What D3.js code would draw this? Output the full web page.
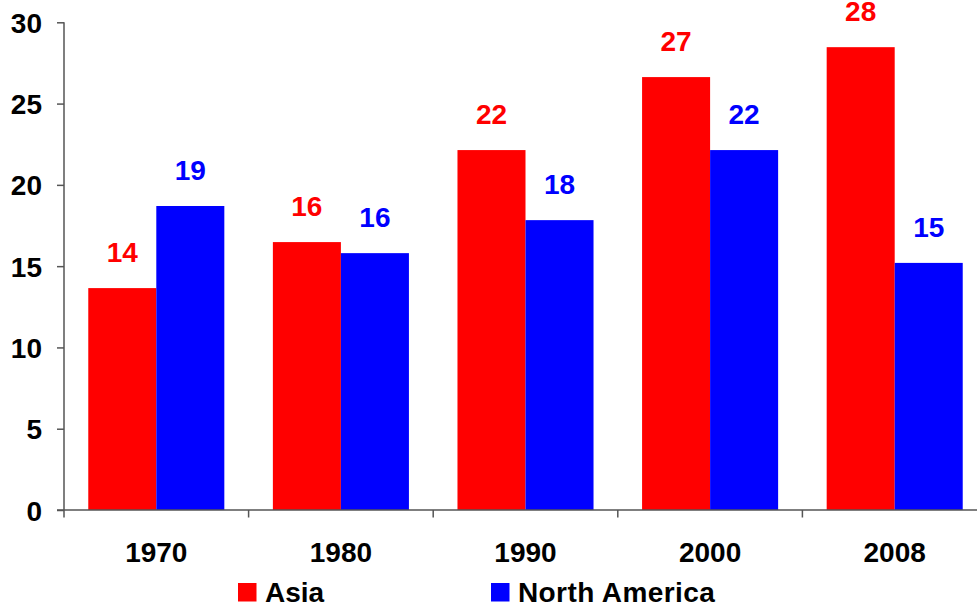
<!DOCTYPE html>
<html>
<head>
<meta charset="utf-8">
<script src="https://cdn.jsdelivr.net/npm/d3@7"></script>
<style>
  html, body { margin: 0; padding: 0; background: #fff; }
  svg { display: block; font-family: "Liberation Sans", Arial, Helvetica, sans-serif; }
</style>
</head>
<body>
<svg id="chart" width="977" height="606"></svg>
<script>
const categories = ["1970", "1980", "1990", "2000", "2008"];
const seriesNames = ["Asia", "North America"];
const asiaValues = [13.65, 16.48, 22.14, 26.63, 28.47];
const northAmericaValues = [18.7, 15.8, 17.83, 22.14, 15.2];
const yTicks = [0, 5, 10, 15, 20, 25, 30];
const colors = ["#ff0000", "#0000ff"];

const series = [asiaValues, northAmericaValues];

const svg = d3.select("#chart");
const mLeft = 64, mTop = 22.3, mBottom = 510, step = 184.6;
const mRight = mLeft + step * categories.length;

const x = d3.scaleBand().domain(categories).range([mLeft, mRight])
  .paddingInner(0.263).paddingOuter(0.1315);
const xs = d3.scaleBand().domain(seriesNames).range([0, x.bandwidth()]);
const y = d3.scaleLinear().domain([0, 30]).range([mBottom, mTop]);

// bars
categories.forEach((c, i) => {
  series.forEach((vals, s) => {
    const v = vals[i];
    svg.append("rect")
      .attr("x", x(c) + xs(seriesNames[s]))
      .attr("y", y(v))
      .attr("width", xs.bandwidth())
      .attr("height", y(0) - y(v))
      .attr("fill", colors[s]);
    svg.append("text")
      .attr("x", x(c) + xs(seriesNames[s]) + xs.bandwidth() / 2)
      .attr("y", y(v) - 25.7)
      .attr("text-anchor", "middle")
      .attr("font-size", 28)
      .attr("font-weight", "bold")
      .attr("fill", colors[s])
      .text(Math.round(v));
  });
});

// y axis
const yAxis = d3.axisLeft(y).tickValues(yTicks).tickSize(7).tickPadding(15);
const gy = svg.append("g").attr("transform", `translate(${mLeft},0)`).call(yAxis);
gy.select(".domain").attr("stroke", "#555").attr("stroke-width", 1.5).attr("d", `M0,${mTop}V${mBottom}`);
gy.selectAll(".tick line").attr("stroke", "#555").attr("stroke-width", 1.5);
gy.selectAll(".tick text").attr("font-size", 28).attr("font-weight", "bold")
  .attr("fill", "#000").attr("font-family", "'Liberation Sans', Arial, sans-serif")
  .attr("dy", "0.36em");

// x axis line
svg.append("line").attr("x1", mLeft - 7).attr("x2", 977).attr("y1", mBottom).attr("y2", mBottom)
  .attr("stroke", "#555").attr("stroke-width", 1.5);
// boundary ticks
d3.range(categories.length + 1).forEach(i => {
  const xx = mLeft + i * step;
  svg.append("line").attr("x1", xx).attr("x2", xx).attr("y1", mBottom).attr("y2", mBottom + 7.5)
    .attr("stroke", "#555").attr("stroke-width", 1.5);
});
// category labels
categories.forEach(c => {
  svg.append("text")
    .attr("x", x(c) + x.bandwidth() / 2)
    .attr("y", 562)
    .attr("text-anchor", "middle")
    .attr("font-size", 28)
    .attr("font-weight", "bold")
    .attr("fill", "#000")
    .text(c);
});

// legend
const legendX = [238, 491];
seriesNames.forEach((n, s) => {
  svg.append("rect").attr("x", legendX[s]).attr("y", 583).attr("width", 18.5).attr("height", 18.5)
    .attr("fill", colors[s]);
  svg.append("text").attr("x", legendX[s] + 27).attr("y", 601.5)
    .attr("font-size", 28).attr("font-weight", "bold").attr("fill", "#000")
    .attr("letter-spacing", s === 1 ? 0.4 : 0)
    .text(n);
});
</script>
</body>
</html>
